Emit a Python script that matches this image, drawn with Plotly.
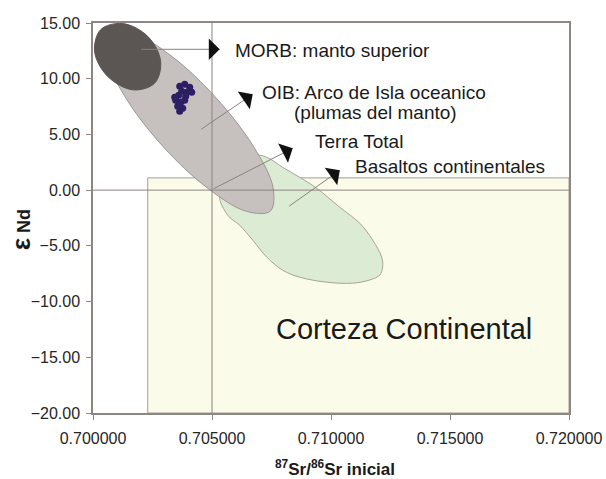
import plotly.graph_objects as go

# ---------------- data ----------------
x_ticks = [0.700, 0.705, 0.710, 0.715, 0.720]
y_ticks = [-20, -15, -10, -5, 0, 5, 10, 15]

# reference lines
ref_x = 0.705
ref_y = 0.0

# Corteza Continental box
corteza_x = [0.7023, 0.7200]
corteza_y = [-20.0, 1.1]

# MORB (manto superior) outline
morb_x = [0.70259, 0.70284, 0.70230, 0.70125, 0.70032, 0.70007, 0.70062, 0.70167]
morb_y = [9.6, 11.6, 13.8, 14.95, 14.4, 12.4, 10.2, 9.0]

# OIB outline
oib_x = [0.70745, 0.70756, 0.70673, 0.70518, 0.70334, 0.70169, 0.70068, 0.70057,
         0.70140, 0.70294, 0.70479, 0.70644]
oib_y = [-1.88, 0.27, 3.96, 8.26, 11.96, 14.08, 14.06, 11.91, 8.20, 3.92, 0.22, -1.90]

# Basaltos continentales outline
bas_x = [0.70730, 0.70797, 0.70868, 0.70940, 0.71037, 0.71121, 0.71175, 0.71213,
         0.71217, 0.71205, 0.71163, 0.71091, 0.70982, 0.70868, 0.70797, 0.70730,
         0.70671, 0.70616, 0.70566, 0.70532, 0.70595, 0.70679]
bas_y = [2.95, 2.05, 1.16, 0.17, -1.54, -2.97, -4.48, -6.01, -6.91, -7.62, -8.06,
         -8.35, -8.26, -7.81, -7.19, -6.01, -4.48, -3.15, -2.25, -0.46, 1.79, 3.13]

# sample points (dark cluster)
sample_x = [0.703643, 0.703853, 0.704063, 0.704147, 0.703937, 0.703727, 0.703895,
            0.703601, 0.703475, 0.703685, 0.703559, 0.703769, 0.703643, 0.703433, 0.703853]
sample_y = [9.32, 9.50, 9.23, 8.78, 8.78, 8.87, 8.42, 8.51, 8.06, 7.88, 7.52, 7.35,
            7.08, 8.33, 8.06]

# arrows: (tail x, tail y, head x, head y)
arrow_tail_x = [0.70196, 0.70448, 0.70500, 0.70818]
arrow_tail_y = [12.64, 5.37, 0.05, -1.53]
arrow_head_x = [0.70532, 0.70671, 0.70839, 0.71037]
arrow_head_y = [12.64, 8.60, 3.76, 1.78]

# ---------------- figure ----------------
FONT = "Liberation Sans, Arial, sans-serif"
X0, X1 = x_ticks[0], x_ticks[-1]
Y0, Y1 = y_ticks[0], y_ticks[-1]

fig = go.Figure()

def region(xs, ys, fill, line_color, width):
    fig.add_trace(go.Scatter(
        x=xs + [xs[0]], y=ys + [ys[0]], mode="lines", fill="toself",
        fillcolor=fill, line=dict(color=line_color, width=width, shape="spline", smoothing=1.0),
        hoverinfo="skip", showlegend=False))

region(bas_x, bas_y, "#dcebd3", "#a8a399", 1)
region(oib_x, oib_y, "#c6c0be", "#9e9794", 1)
region(morb_x, morb_y, "#5b5553", "#5b5553", 1)

fig.add_trace(go.Scatter(
    x=sample_x, y=sample_y, mode="markers",
    marker=dict(color="#2c1f63", size=7, line=dict(width=0)),
    hoverinfo="skip", showlegend=False))

shapes = [
    dict(type="rect", xref="x", yref="y", x0=corteza_x[0], x1=corteza_x[1],
         y0=corteza_y[0], y1=corteza_y[1], fillcolor="#fbfbea",
         line=dict(color="#a39c97", width=1), layer="below"),
    dict(type="line", xref="x", yref="paper", x0=ref_x, x1=ref_x, y0=0, y1=1,
         line=dict(color="#8c8380", width=1), layer="above"),
    dict(type="line", xref="paper", yref="y", x0=0, x1=1, y0=ref_y, y1=ref_y,
         line=dict(color="#8c8380", width=1), layer="above"),
]

annotations = []
for tx, ty, hx, hy in zip(arrow_tail_x, arrow_tail_y, arrow_head_x, arrow_head_y):
    annotations.append(dict(
        x=hx, y=hy, ax=tx, ay=ty, xref="x", yref="y", axref="x", ayref="y",
        text="", showarrow=True, arrowhead=0, arrowwidth=1, arrowcolor="#8a827e"))
    # black arrow head
    dxp = (hx - tx) / (X1 - X0) * 476
    dyp = -(hy - ty) / (Y1 - Y0) * 390
    n = (dxp ** 2 + dyp ** 2) ** 0.5
    annotations.append(dict(
        x=hx, y=hy, ax=-dxp / n * 4, ay=-dyp / n * 4, xref="x", yref="y",
        text="", showarrow=True, arrowhead=1, arrowsize=3, arrowwidth=1.2,
        arrowcolor="#111111"))

lab_font = dict(family=FONT, size=19, color="#1a1a1a")
annotations += [
    dict(x=0.70587, y=12.5, xref="x", yref="y", text="MORB: manto superior",
         showarrow=False, xanchor="left", yanchor="middle", font=lab_font),
    dict(x=0.71179, y=8.8, xref="x", yref="y", text="OIB: Arco de Isla oceanico",
         showarrow=False, xanchor="center", yanchor="middle", font=lab_font),
    dict(x=0.71185, y=7.0, xref="x", yref="y", text="(plumas del manto)",
         showarrow=False, xanchor="center", yanchor="middle", font=lab_font),
    dict(x=0.70923, y=4.4, xref="x", yref="y", text="Terra Total",
         showarrow=False, xanchor="left", yanchor="middle", font=lab_font),
    dict(x=0.71091, y=2.1, xref="x", yref="y", text="Basaltos continentales",
         showarrow=False, xanchor="left", yanchor="middle", font=lab_font),
    dict(x=0.71308, y=-12.5, xref="x", yref="y", text="Corteza Continental",
         showarrow=False, xanchor="center", yanchor="middle",
         font=dict(family=FONT, size=29, color="#1a1a1a")),
    dict(x=-0.152, y=0.47, xref="paper", yref="paper", textangle=-90,
         text="<b><span style='font-size:26px'>ε</span> Nd</b>",
         showarrow=False, xanchor="center", yanchor="middle",
         font=dict(family=FONT, size=18, color="#1a1a1a")),
    dict(x=0.508, y=-0.140, xref="paper", yref="paper",
         text="<b><sup>87</sup>Sr/<sup>86</sup>Sr inicial</b>",
         showarrow=False, xanchor="center", yanchor="middle",
         font=dict(family=FONT, size=17, color="#1a1a1a")),
]

tick_font = dict(family=FONT, size=16, color="#262626")
axis_common = dict(showline=True, linecolor="#8f8684", linewidth=1.5, mirror=True,
                   ticks="outside", ticklen=5, tickcolor="#8f8684", showgrid=False,
                   zeroline=False, tickfont=tick_font, automargin=False)

fig.update_layout(
    width=606, height=479,
    margin=dict(l=93, r=37, t=23, b=66, autoexpand=False),
    paper_bgcolor="white", plot_bgcolor="white",
    xaxis=dict(range=[X0, X1], tickvals=x_ticks, tickformat=".6f",
               ticklabelstandoff=5, **axis_common),
    yaxis=dict(range=[Y0, Y1], tickvals=y_ticks, tickformat=".2f",
               ticklabelstandoff=3, **axis_common),
    shapes=shapes, annotations=annotations,
)

fig.write_html("out.html", config={"displayModeBar": False},
               post_script="document.body.style.margin='0';document.body.style.overflow='hidden';")
